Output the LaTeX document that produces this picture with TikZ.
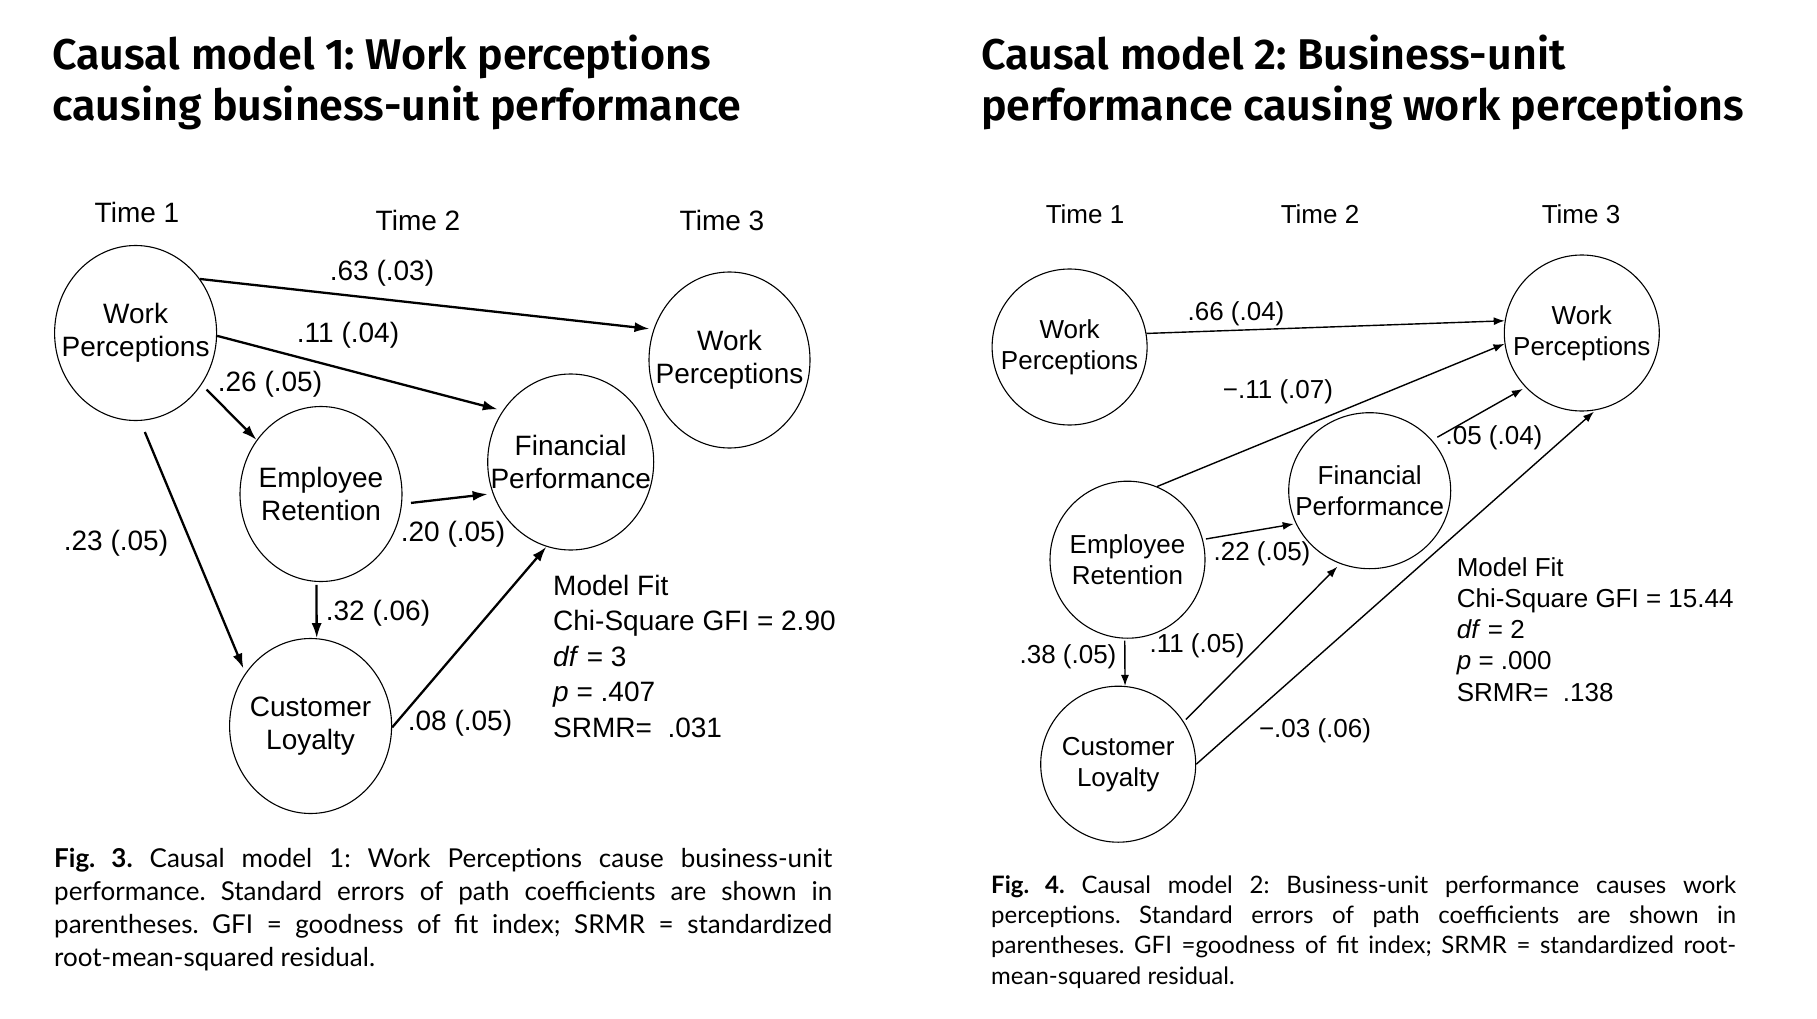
\documentclass[tikz,border=0pt]{standalone}
\usepackage{fontspec}
\setmainfont{Liberation Sans}
\newfontfamily\titlefont[Ligatures=NoCommon,BoldFont={Fira Sans SemiBold}]{Fira Sans}
\newfontfamily\capfont{Lato}
\usetikzlibrary{shapes.geometric,arrows.meta}
\newcommand\zbx[1]{\makebox[0pt]{#1}}
\begin{document}
\frenchspacing
\begin{tikzpicture}[x=1pt,y=-1pt,
  ellA/.style={ellipse,draw,line width=1.1pt,inner sep=0pt,align=center,font=\fontsize{28}{32.5}\selectfont},
  ellB/.style={ellipse,draw,line width=1.1pt,inner sep=0pt,align=center,font=\fontsize{26}{31}\selectfont},
  arrA/.style={line width=2.3pt,-{Latex[length=15pt,width=10pt]}},
  arrB/.style={line width=1.4pt,-{Latex[length=11pt,width=8pt]}},
  labA/.style={font=\fontsize{28}{32}\selectfont,inner sep=0pt},
  labB/.style={font=\fontsize{26}{30}\selectfont,inner sep=0pt},
  ttl/.style={anchor=base west,inner sep=0pt,font=\titlefont\bfseries\fontsize{43}{51}\selectfont},
  fitA/.style={anchor=north west,align=left,inner sep=0pt,font=\fontsize{28}{35.5}\selectfont},
  fitB/.style={anchor=north west,align=left,inner sep=0pt,font=\fontsize{26}{31.3}\selectfont},
]
\fill[white] (0,0) rectangle (1817,1019);
\useasboundingbox (0,0) rectangle (1817,1019);

% titles
\node[ttl] (t1a) at (52,69.5) {Causal model 1: Work perceptions};
\node[ttl] (t1b) at (52,120.5) {causing business-unit performance};
\node[ttl] (t2a) at (981,69.5) {Causal model 2: Business-unit};
\node[ttl] (t2b) at (981,120.5) {performance causing work perceptions};

% ---------- left model ----------
\node[labA] (ta1) at (137,212) {Time 1};
\node[labA] (ta2) at (418,220) {Time 2};
\node[labA] (ta3) at (722,220) {Time 3};

\node[ellA,minimum width=162pt,minimum height=175pt] (wpa) at (135.6,333) {\zbx{Work}\\\zbx{Perceptions}};
\node[ellA,minimum width=161pt,minimum height=176pt] (wpc) at (729.5,360) {\zbx{Work}\\\zbx{Perceptions}};
\node[ellA,minimum width=166pt,minimum height=176pt] (fpa) at (570.7,462) {\zbx{Financial}\\\zbx{Performance}};
\node[ellA,minimum width=162pt,minimum height=175pt] (era) at (321,494) {\zbx{Employee}\\\zbx{Retention}};
\node[ellA,minimum width=162pt,minimum height=175pt] (cla) at (310.6,726) {\zbx{Customer}\\\zbx{Loyalty}};

\draw[arrA,shorten >=4pt] (wpa.40) -- (wpc.158);
\draw[arrA,shorten >=5pt] (wpa.-2) -- (fpa.143);
\draw[arrA,shorten <=7pt] (wpa.-38.5) -- (era.140);
\draw[arrA,shorten <=12pt,shorten >=5pt] (wpa.-87) -- (cla.141.6);
\draw[arrA,shorten <=9pt,shorten >=5pt] (era.-7) -- (fpa.202.4);
\draw[arrA,shorten <=3pt] (era.-93) -- (cla.86.5);
\draw[arrA] (cla.-1) -- (fpa.-106);

\node[labA] (l63) at (382,273) {.63 (.03)};
\node[labA] (l11) at (348,335) {.11 (.04)};
\node[labA] (l26) at (270,384) {.26 (.05)};
\node[labA] (l23) at (116,543) {.23 (.05)};
\node[labA] (l20) at (453,534) {.20 (.05)};
\node[labA] (l32) at (378,613) {.32 (.06)};
\node[labA] (l08) at (460,723) {.08 (.05)};

\node[fitA] (fita) at (553,575) {Model Fit\\Chi-Square GFI = 2.90\\\textit{df} = 3\\\textit{p} = .407\\SRMR=\ \ .031};

% ---------- right model ----------
\node[labB] (tb1) at (1085,214) {Time 1};
\node[labB] (tb2) at (1320,214) {Time 2};
\node[labB] (tb3) at (1581,214) {Time 3};

\node[ellB,minimum width=155pt,minimum height=156pt] (wpr1) at (1069.6,347) {\zbx{Work}\\\zbx{Perceptions}};
\node[ellB,minimum width=155pt,minimum height=156pt] (wpr3) at (1581.8,333) {\zbx{Work}\\\zbx{Perceptions}};
\node[ellB,minimum width=162pt,minimum height=156pt] (fpr) at (1369.7,490.7) {\zbx{Financial}\\\zbx{Performance}};
\node[ellB,minimum width=155pt,minimum height=157pt] (err) at (1127.5,559.7) {\zbx{Employee}\\\zbx{Retention}};
\node[ellB,minimum width=155pt,minimum height=156pt] (clr) at (1118.2,764.2) {\zbx{Customer}\\\zbx{Loyalty}};

\draw[arrB] (wpr1.10.5) -- (wpr3.171.7);
\draw[arrB] (err.68.6) -- (wpr3.-172.7);
\draw[arrB,shorten <=6pt,shorten >=3pt] (fpr.39.8) -- (wpr3.-136.6);
\draw[arrB,shorten <=3pt,shorten >=2pt] (err.15.8) -- (fpr.-156.4);
\draw[arrB,shorten <=2pt] (err.-92.5) -- (clr.85.7);
\draw[arrB,shorten <=3pt,shorten >=4pt] (clr.33.5) -- (fpr.-112);
\draw[arrB,shorten >=2pt] (clr.0) -- (wpr3.-80);

\node[labB] (r66) at (1236,314) {.66 (.04)};
\node[labB] (r11a) at (1278,392) {−.11 (.07)};
\node[labB] (r05) at (1494,438) {.05 (.04)};
\node[labB] (r22) at (1262,554) {.22 (.05)};
\node[labB] (r38) at (1068,657) {.38 (.05)};
\node[labB] (r11b) at (1197,645.5) {.11 (.05)};
\node[labB] (r03) at (1315,731) {−.03 (.06)};

\node[fitB] (fitb) at (1456.6,557) {Model Fit\\Chi-Square GFI = 15.44\\\textit{df} = 2\\\textit{p} = .000\\SRMR=\ \ .138};

% ---------- captions ----------
\node[anchor=north west,inner sep=0pt,text width=778pt,align=justify,
      font=\capfont\fontsize{26}{33}\selectfont] (capa) at (54,848.5)
  {\textbf{Fig. 3.} Causal model 1: Work Perceptions cause business-unit\linebreak
   performance. Standard errors of path coefficients are shown in\linebreak
   parentheses. GFI = goodness of fit index; SRMR = standardized\linebreak
   root-mean-squared residual.};
\node[anchor=north west,inner sep=0pt,text width=745pt,align=justify,
      font=\capfont\fontsize{24}{30.3}\selectfont] (capb) at (991,875.3)
  {\textbf{Fig. 4.} Causal model 2: Business-unit performance causes work\linebreak
   perceptions. Standard errors of path coefficients are shown in\linebreak
   parentheses. GFI =goodness of fit index; SRMR = standardized root-\linebreak
   mean-squared residual.};
\end{tikzpicture}
\end{document}
